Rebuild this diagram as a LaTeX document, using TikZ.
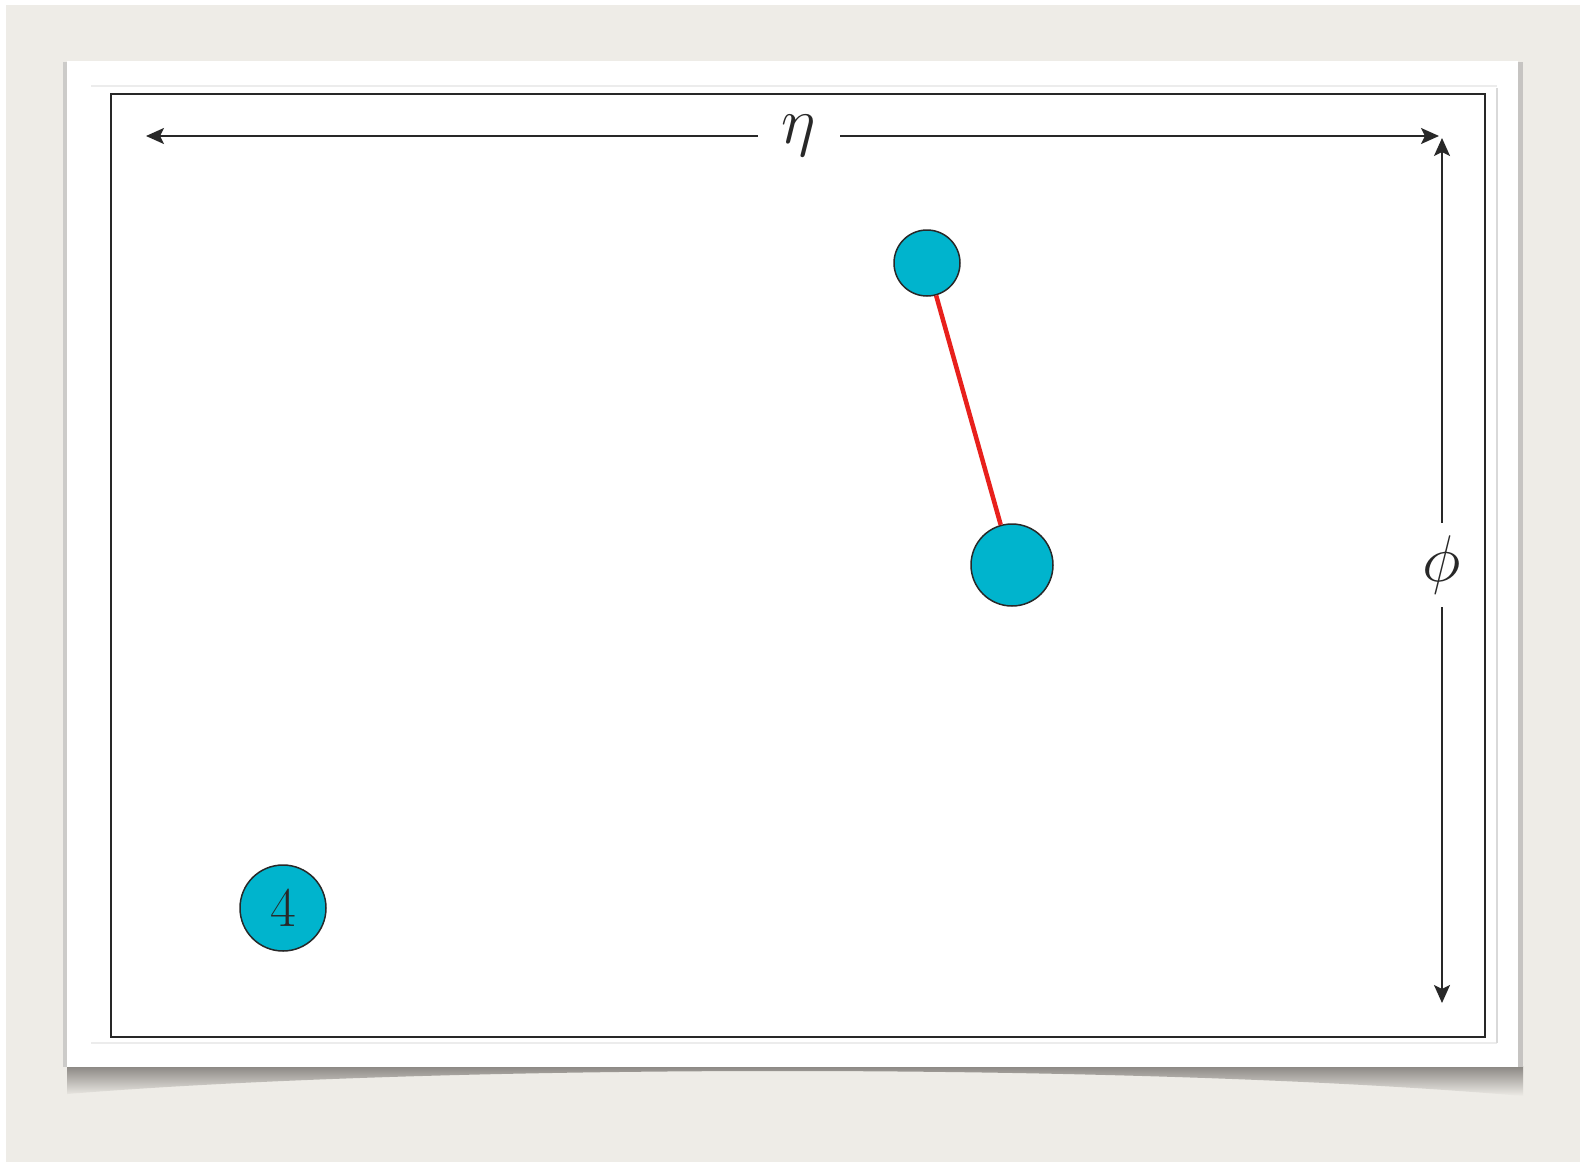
\RequirePackage{fix-cm}
\documentclass[tikz,border=0pt]{standalone}
\usetikzlibrary{arrows.meta,positioning,calc}
\definecolor{paper}{RGB}{238,236,231}
\definecolor{ink}{RGB}{40,40,40}
\definecolor{jetcyan}{RGB}{0,180,205}
\definecolor{linkred}{RGB}{232,32,28}
\definecolor{cardshadow}{RGB}{128,124,120}
\definecolor{faint}{RGB}{236,236,236}
\tikzset{jet/.style={circle,draw=ink,line width=1.5pt,fill=jetcyan,inner sep=0pt},
  link/.style={line width=4.5pt,linkred},
  axis/.style={-{Stealth[length=18pt,width=16pt,inset=4pt]},line width=2pt,ink},
  axislabel/.style={font=\fontsize{66}{66}\selectfont,text=ink,inner sep=0pt}}

\begin{document}
\begin{tikzpicture}[x=1pt,y=-1pt]
\useasboundingbox (0,0) rectangle (1580,1162);
\fill[white] (0,0) rectangle (1580,1162);
\fill[paper] (6,5) rectangle (1580,1162);
% card with its curled shadow
\shade[top color=cardshadow,bottom color=paper] (67,1066) -- (67,1094)
  .. controls (450,1063) and (1140,1063) .. (1523,1096) -- (1523,1066) -- cycle;
\fill[cardshadow!40] (63,62) rectangle (67,1067);
\fill[cardshadow!45] (1518,62) rectangle (1523,1067);
\fill[white] (67,61) rectangle (1518,1067);
\draw[faint,line width=1.5pt] (91,86) -- (1497,86);
\draw[faint,line width=1.5pt] (91,1043) -- (1497,1043);
\draw[gray!30,line width=1.5pt] (1497,88) -- (1497,1043);
\draw[ink,line width=2pt] (111,94) rectangle (1485,1037);
% jets
\node[jet,minimum size=66pt] (jeta) at (927,263) {};
\node[jet,minimum size=82pt] (jetb) at (1012,565) {};
\node[jet,minimum size=86pt,font=\fontsize{56}{56}\selectfont,text=ink] (jetc) at (283,908) {4};
\draw[link] (jeta) -- (jetb);
% axes
\node[axislabel,minimum width=82pt] (eta) at (799,136) {$\eta$};
\coordinate (etaleft) at (146,136);
\coordinate (etaright) at (1439,136);
\draw[axis] (eta) -- (etaleft);
\draw[axis] (eta) -- (etaright);
\node[axislabel,minimum height=84pt] (phi) at (1442,565) {$\phi$};
\coordinate (phitop) at (1442,138);
\coordinate (phibot) at (1442,1003);
\draw[axis] (phi) -- (phitop);
\draw[axis] (phi) -- (phibot);
\end{tikzpicture}
\end{document}
